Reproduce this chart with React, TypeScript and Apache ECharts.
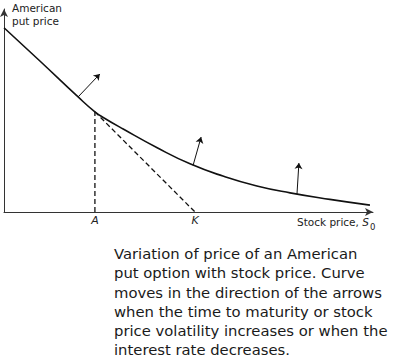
import React, { useEffect, useRef } from "react";
import * as echarts from "echarts";

// Stock price (x) and American put price (y) along the curve
const curveS = [0, 9.4, 19.4, 23.8, 26.2, 31.2, 40.1, 48.7, 57.3, 66.2, 74.9, 85.3, 95.8];
const curveP = [48.2, 39.5, 30.1, 26.2, 24.6, 21.7, 16.8, 12.6, 9.4, 6.8, 5.0, 3.3, 1.8];

// Key stock prices
const pointA = 23.8;
const strikeK = 50;
const tickNames = ["A", "K"];

// Arrows showing direction of curve moves
const arrowFromS = [19.4, 49.5, 76.7];
const arrowFromP = [30.1, 12.2, 4.7];
const arrowToS = [25.1, 51.6, 77.2];
const arrowToP = [36.1, 19.6, 12.8];

const xMax = 96.6;
const yMax = 53.1;

const yTitle = "American\nput price";
const xTitle = "Stock price, ";
const xSymbol = "S";
const xSub = "0";
const caption = [
  "Variation of price of an American",
  "put option with stock price. Curve",
  "moves in the direction of the arrows",
  "when the time to maturity or stock",
  "price volatility increases or when the",
  "interest rate decreases.",
];

export default function App() {
  const ref = useRef<HTMLDivElement>(null);
  useEffect(() => {
    if (!ref.current) return;
    const chart = echarts.init(ref.current, undefined, { renderer: "svg" });
    const font = "DejaVu Sans, sans-serif";
    const curveData = curveS.map((s, i) => [s, curveP[i]]);
    const curveAtA = curveP[curveS.indexOf(pointA)];
    const arrows = arrowFromS.map((s, i) => ({
      coords: [
        [s, arrowFromP[i]],
        [arrowToS[i], arrowToP[i]],
      ],
    }));
    chart.setOption({
      animation: false,
      grid: { left: 4, right: 21, top: 9, bottom: 148, containLabel: false },
      xAxis: {
        type: "value",
        min: 0,
        max: xMax,
        splitLine: { show: false },
        axisLine: {
          show: true,
          lineStyle: { color: "#333", width: 1 },
          symbol: ["none", "arrow"],
          symbolSize: [6, 8],
        },
        axisTick: { show: false },
        axisLabel: {
          show: true,
          customValues: [pointA, strikeK],
          formatter: (v: number) => (Math.abs(v - pointA) < 0.01 ? tickNames[0] : tickNames[1]),
          fontStyle: "italic",
          fontFamily: font,
          fontSize: 11,
          color: "#222",
          margin: 3,
        },
      },
      yAxis: {
        type: "value",
        min: 0,
        max: yMax,
        splitLine: { show: false },
        axisLine: {
          show: true,
          lineStyle: { color: "#333", width: 1 },
          symbol: ["none", "arrow"],
          symbolSize: [6, 8],
        },
        axisTick: { show: false },
        axisLabel: { show: false },
      },
      series: [
        {
          type: "line",
          data: curveData,
          smooth: true,
          showSymbol: false,
          silent: true,
          lineStyle: { color: "#111", width: 1.6 },
        },
        {
          type: "line",
          data: [
            [pointA, 0],
            [pointA, curveAtA],
          ],
          showSymbol: false,
          silent: true,
          lineStyle: { color: "#111", width: 1.3, type: [5, 3] },
        },
        {
          type: "line",
          data: [
            [pointA, curveAtA],
            [strikeK, 0],
          ],
          showSymbol: false,
          silent: true,
          lineStyle: { color: "#111", width: 1.3, type: [5, 3] },
        },
        {
          type: "lines",
          coordinateSystem: "cartesian2d",
          data: arrows,
          silent: true,
          symbol: ["none", "arrow"],
          symbolSize: 6,
          lineStyle: { color: "#111", width: 1, opacity: 1 },
        },
      ],
      graphic: [
        {
          type: "text",
          left: 12,
          top: 1,
          style: {
            text: yTitle,
            fontFamily: font,
            fontSize: 10.5,
            lineHeight: 13,
            fill: "#222",
          },
        },
        {
          type: "text",
          left: 297,
          top: 216,
          style: {
            text: xTitle + "{s|" + xSymbol + "}",
            fontFamily: font,
            fontSize: 10.5,
            fill: "#222",
            rich: {
              s: { fontStyle: "italic", fontFamily: font, fontSize: 10.5, fill: "#222" },
            },
          },
        },
        {
          type: "text",
          left: 370,
          top: 222,
          style: {
            text: xSub,
            fontFamily: font,
            fontSize: 8.5,
            fill: "#222",
          },
        },
        {
          type: "text",
          left: 114,
          top: 244,
          style: {
            text: caption.join("\n"),
            fontFamily: font,
            fontSize: 14.8,
            lineHeight: 19.2,
            fill: "#1a1a1a",
          },
        },
      ],
    });
    return () => chart.dispose();
  }, []);
  return (
    <div
      ref={ref}
      style={{ position: "fixed", left: 0, top: 0, width: 394, height: 360, background: "#fff" }}
    />
  );
}
